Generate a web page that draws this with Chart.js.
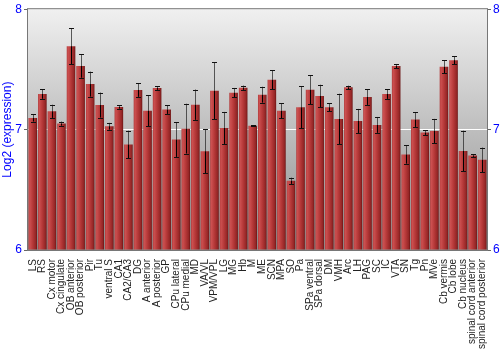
<!DOCTYPE html>
<html><head><meta charset="utf-8">
<script src="https://cdn.jsdelivr.net/npm/chart.js@4/dist/chart.umd.min.js"></script>
<style>html,body{margin:0;padding:0;background:#fff}#wrap{width:500px;height:350px}</style>
</head><body><div id="wrap"><canvas id="c" width="500" height="350"></canvas></div>
<script>
const categories = ["LS","RS","Cx motor","Cx cingulate","OB anterior","OB posterior","Pir","Tu","ventral S","CA1","CA2/CA3","DG","A anterior","A posterior","GP","CPu lateral","CPu medial","MD","VA/VL","VPM/VPL","LG","MG","Hb","M","ME","SCN","MPA","SO","Pa","SPa ventral","SPa dorsal","DM","VMH","Arc","LH","PAG","SC","IC","VTA","SN","Tg","Pn","MVe","Cb vermis","Cb lobe","Cb nucleus","spinal cord anterior","spinal cord posterior"];
const expression = [7.097,7.296,7.152,7.05,7.693,7.528,7.378,7.204,7.028,7.188,6.876,7.329,7.157,7.345,7.166,6.917,7.008,7.207,6.82,7.323,7.014,7.307,7.348,7.033,7.29,7.414,7.157,6.575,7.185,7.331,7.279,7.185,7.088,7.351,7.072,7.271,7.039,7.296,7.528,6.793,7.083,6.975,6.989,7.522,7.577,6.823,6.785,6.749];
const errors = [0.03,0.04,0.055,0.017,0.15,0.097,0.104,0.104,0.028,0.014,0.115,0.057,0.13,0.015,0.036,0.144,0.207,0.126,0.182,0.235,0.133,0.039,0.018,0.004,0.066,0.077,0.061,0.026,0.175,0.122,0.094,0.032,0.21,0.014,0.1,0.066,0.066,0.041,0.017,0.076,0.061,0.019,0.1,0.055,0.033,0.168,0.011,0.102];
const yTicks = [6,7,8];

const bgPlugin = {
  id:'bg',
  beforeDraw(chart){
    const {ctx, chartArea:a} = chart;
    const g = ctx.createLinearGradient(0,a.top,0,a.bottom);
    g.addColorStop(0,'#f0f0f0'); g.addColorStop(1,'#8c8c8c');
    ctx.save(); ctx.fillStyle=g; ctx.fillRect(a.left,a.top,a.right-a.left,a.bottom-a.top); ctx.restore();
  },
  afterDraw(chart){
    const {ctx, chartArea:a} = chart;
    ctx.save(); ctx.strokeStyle='#777'; ctx.lineWidth=1;
    ctx.strokeRect(a.left-0.5,a.top-0.5,a.right-a.left+1,a.bottom-a.top+1);
    ctx.restore();
  }
};
const errPlugin = {
  id:'err',
  afterDatasetsDraw(chart){
    const {ctx} = chart; const xs=chart.scales.x, ys=chart.scales.y;
    ctx.save(); ctx.lineWidth=1;
    expression.forEach((v,i)=>{
      const x=Math.round(xs.getPixelForValue(i))+0.5;
      const y1=ys.getPixelForValue(v+errors[i]), y2=ys.getPixelForValue(v-errors[i]);
      const yb=ys.getPixelForValue(v);
      ctx.strokeStyle='rgba(40,40,40,0.75)';
      ctx.beginPath(); ctx.moveTo(x,y1); ctx.lineTo(x,Math.min(yb,y2)); ctx.stroke();
      if(y2>yb){ctx.strokeStyle='#000'; ctx.beginPath(); ctx.moveTo(x,yb); ctx.lineTo(x,y2); ctx.stroke();}
      ctx.strokeStyle='#111';
      ctx.beginPath(); ctx.moveTo(x-2.5,Math.round(y1)+0.5); ctx.lineTo(x+2.5,Math.round(y1)+0.5);
      ctx.moveTo(x-2.5,Math.round(y2)+0.5); ctx.lineTo(x+2.5,Math.round(y2)+0.5); ctx.stroke();
    });
    ctx.restore();
  }
};
function barFill(c){
  const chart=c.chart; const xs=chart.scales.x;
  if(!xs || !chart.chartArea) return '#b03030';
  const x=xs.getPixelForValue(c.dataIndex); const w=(xs.width/categories.length)*0.9;
  const g=chart.ctx.createLinearGradient(x-w/2,0,x+w/2,0);
  g.addColorStop(0,'#b03a3a'); g.addColorStop(0.15,'#cc5050'); g.addColorStop(0.5,'#b53838');
  g.addColorStop(0.85,'#942626'); g.addColorStop(1,'#6a1414');
  return g;
}
new Chart(document.getElementById('c'),{
  type:'bar',
  data:{labels:categories,datasets:[{data:expression,base:6,backgroundColor:barFill,borderWidth:0,barPercentage:0.9,categoryPercentage:1}]},
  options:{
    responsive:false,animation:false,
    layout:{padding:{top:9,left:0,right:0,bottom:0}},
    plugins:{legend:{display:false},tooltip:{enabled:false}},
    scales:{
      x:{grid:{display:false},border:{display:false},
        ticks:{autoSkip:false,maxRotation:90,minRotation:90,font:{family:'Arial, Liberation Sans',size:10},color:'#222',padding:1},
        afterFit(s){s.height=100;}},
      y:{position:'left',min:6,max:8,
        afterBuildTicks(s){s.ticks=yTicks.map(v=>({value:v}));},
        ticks:{font:{family:'Arial, Liberation Sans',size:12},color:'#0000ff',padding:2},
        grid:{color:c=>c.tick&&c.tick.value===7?'#ffffff':'rgba(0,0,0,0)',tickLength:4,tickColor:'#666',lineWidth:1},
        border:{display:false},
        title:{display:true,text:'Log2 (expression)',color:'#0000ff',font:{family:'Arial, Liberation Sans',size:12},padding:0},
        afterFit(s){s.width=28;}},
      y2:{position:'right',min:6,max:8,
        afterBuildTicks(s){s.ticks=yTicks.map(v=>({value:v}));},
        ticks:{font:{family:'Arial, Liberation Sans',size:12},color:'#0000ff',padding:2},
        grid:{drawOnChartArea:false,tickLength:4,tickColor:'#666'},border:{display:false},
        afterFit(s){s.width=13;}}
    }
  },
  plugins:[bgPlugin,errPlugin]
});
</script></body></html>
